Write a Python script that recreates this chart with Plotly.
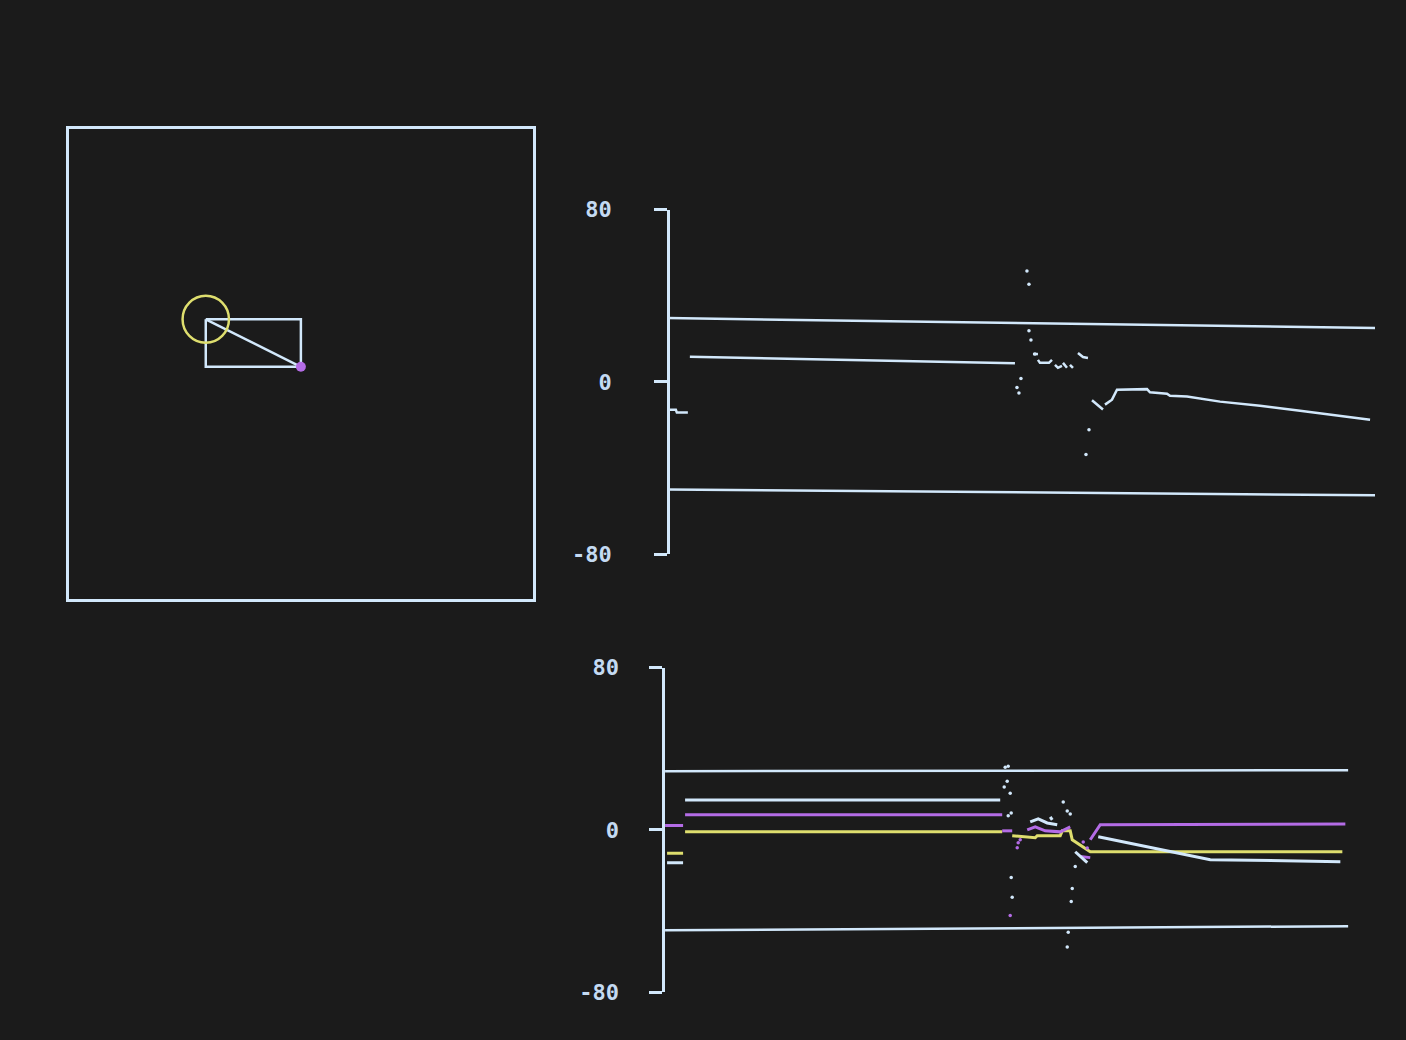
import plotly.graph_objs as go

# colours of the vector display
LINE = '#d2e8fb'
TEXT = '#c4daf2'
PURPLE = '#b46ce6'
YELLOW = '#dede6e'
BG = '#1b1b1b'

# left panel: cursor (circle) and target (dot)
cursor_pos = [29.5, 59.5]
cursor_radius = 5.0
target_pos = [50.0, 49.4]

# top chart: limits and tracked signal
top_limit_x = [0, 707]
top_upper = [29.6, 25.0]
top_lower = [-50.0, -52.7]

top_x = [2, 8, 9, 20, None, 22, 347, None,
         365, 370, None, 370, 372, 381, 384, None, 387, 390, 394, None,
         395, 399, None, 402, 405, None, 410, 415, 420, None,
         424, 435, None, 437, 444, 449, 479, 482, 499, 502, 519, 552, 592, 632, 672, 702]
top_y = [-13, -13, -14.3, -14.3, None, 11.6, 8.6, None,
         12.9, 12.9, None, 10.2, 8.8, 8.8, 10.2, None, 7.9, 6.5, 7.4, None,
         8.8, 6.5, None, 7.9, 6.5, None, 13.4, 11.5, 11.1, None,
         -8.6, -12.9, None, -10.6, -8.3, -3.7, -3.4, -4.9, -5.5, -6.5, -6.8, -9.2, -11.1, -13.4, -15.7, -17.6]

top_dot_x = [359, 361, 361, 363, 367, 353, 349, 351, 421, 418]
top_dot_y = [51.5, 45.3, 23.7, 19.4, 12.9, 1.5, -2.6, -5.2, -22.3, -33.8]

# bottom chart: limits and three signals
bot_limit_x = [2, 685]
bot_upper = [28.9, 29.4]
bot_lower = [-49.5, -47.5]

white_x = [4, 20, None, 22, 337, None, 367, 375, 384, 394, None, 387, 389, None,
           412, 424, None, 435, 547, 677]
white_y = [-16.2, -16.2, None, 14.7, 14.7, None, 3.9, 5.4, 3.4, 2.5, None, 6.4, 4.9, None,
           -10.8, -16.2, None, -3.4, -14.7, -15.7]

purple_x = [2, 20, None, 22, 339, None, 339, 349, None, 364, 372, 382, 397, 407, None,
            417, 427, None, 427, 435, 437, 682]
purple_y = [2.1, 2.1, None, 7.5, 7.5, None, -0.5, -0.5, None, 0, 1.5, -0.5, -1, 1.5, None,
            -13.2, -13.7, None, -4.9, 1.5, 2.5, 2.9]

yellow_x = [4, 20, None, 22, 339, None, 349, 372, 374, 397, 399, 407, 409, 427, 679]
yellow_y = [-11.6, -11.6, None, -1.0, -1.0, None, -2.9, -3.9, -2.9, -2.9, -0.5, -0.5, -4.9, -10.8, -10.8]

white_dot_x = [342, 345, 344, 341, 347, 348, 345, 348, 349, 400, 404, 407, 412, 409, 408, 405, 404]
white_dot_y = [30.9, 31.4, 24.0, 21.1, 18.1, 8.3, 6.9, -23.5, -33.3, 13.7, 9.3, 7.8, -18.1, -28.9, -35.3, -50.5, -57.8]
purple_dot_x = [347, 354, 355, 357, 420, 424]
purple_dot_y = [-42.2, -8.8, -6.4, -4.9, -6.0, -9.0]

ticks = [-80, 0, 80]

fig = go.Figure()

# left panel
cx, cy = cursor_pos
tx, ty = target_pos
fig.add_trace(go.Scatter(x=[cx, tx, tx, cx, cx], y=[cy, cy, ty, ty, cy], mode='lines',
                         line=dict(color=LINE, width=2.5), xaxis='x', yaxis='y'))
fig.add_trace(go.Scatter(x=[cx, tx], y=[cy, ty], mode='lines',
                         line=dict(color=LINE, width=2.5), xaxis='x', yaxis='y'))
fig.add_trace(go.Scatter(x=[tx], y=[ty], mode='markers',
                         marker=dict(color=PURPLE, size=10), xaxis='x', yaxis='y'))
fig.add_shape(type='circle', xref='x', yref='y',
              x0=cx - cursor_radius, x1=cx + cursor_radius,
              y0=cy - cursor_radius, y1=cy + cursor_radius,
              line=dict(color=YELLOW, width=2.5))

# top chart
fig.add_trace(go.Scatter(x=top_limit_x, y=top_upper, mode='lines',
                         line=dict(color=LINE, width=2.5), xaxis='x2', yaxis='y2'))
fig.add_trace(go.Scatter(x=top_limit_x, y=top_lower, mode='lines',
                         line=dict(color=LINE, width=2.5), xaxis='x2', yaxis='y2'))
fig.add_trace(go.Scatter(x=top_x, y=top_y, mode='lines', connectgaps=False,
                         line=dict(color=LINE, width=2.5), xaxis='x2', yaxis='y2'))
fig.add_trace(go.Scatter(x=top_dot_x, y=top_dot_y, mode='markers',
                         marker=dict(color=LINE, size=3.5), xaxis='x2', yaxis='y2'))

# bottom chart
fig.add_trace(go.Scatter(x=bot_limit_x, y=bot_upper, mode='lines',
                         line=dict(color=LINE, width=2.5), xaxis='x3', yaxis='y3'))
fig.add_trace(go.Scatter(x=bot_limit_x, y=bot_lower, mode='lines',
                         line=dict(color=LINE, width=2.5), xaxis='x3', yaxis='y3'))
fig.add_trace(go.Scatter(x=yellow_x, y=yellow_y, mode='lines', connectgaps=False,
                         line=dict(color=YELLOW, width=3), xaxis='x3', yaxis='y3'))
fig.add_trace(go.Scatter(x=purple_x, y=purple_y, mode='lines', connectgaps=False,
                         line=dict(color=PURPLE, width=3), xaxis='x3', yaxis='y3'))
fig.add_trace(go.Scatter(x=white_x, y=white_y, mode='lines', connectgaps=False,
                         line=dict(color=LINE, width=3), xaxis='x3', yaxis='y3'))
fig.add_trace(go.Scatter(x=white_dot_x, y=white_dot_y, mode='markers',
                         marker=dict(color=LINE, size=3.5), xaxis='x3', yaxis='y3'))
fig.add_trace(go.Scatter(x=purple_dot_x, y=purple_dot_y, mode='markers',
                         marker=dict(color=PURPLE, size=3.5), xaxis='x3', yaxis='y3'))

hidden_x = dict(visible=False, showgrid=False, zeroline=False)
value_axis = dict(range=[-80, 80], tickvals=ticks, ticktext=[str(t) for t in ticks],
                  showline=True, linecolor=LINE, linewidth=2.5,
                  ticks='outside', ticklen=13, tickwidth=2.5, tickcolor=LINE,
                  showgrid=False, zeroline=False,
                  tickfont=dict(family='DejaVu Sans Mono', size=22, color=TEXT, weight='bold'))

fig.update_layout(
    width=1406, height=1040,
    margin=dict(l=0, r=0, t=0, b=0),
    showlegend=False,
    paper_bgcolor=BG,
    plot_bgcolor=BG,
    xaxis=dict(domain=[0.049, 0.379], range=[0, 100], showline=True, mirror=True,
               linecolor=LINE, linewidth=2.5, showticklabels=False, ticks='',
               showgrid=False, zeroline=False),
    yaxis=dict(domain=[0.4218, 0.8847], range=[0, 100], showline=True, mirror=True,
               linecolor=LINE, linewidth=2.5, showticklabels=False, ticks='',
               showgrid=False, zeroline=False),
    xaxis2=dict(domain=[0.475, 0.978], range=[0, 707], anchor='y2', **hidden_x),
    yaxis2=dict(domain=[0.466, 0.8053], anchor='free', position=0.475,
                ticklabelstandoff=38, **value_axis),
    xaxis3=dict(domain=[0.4716, 0.959], range=[0, 685], anchor='y3', **hidden_x),
    yaxis3=dict(domain=[0.0344, 0.3541], anchor='free', position=0.4716,
                ticklabelstandoff=26, **value_axis),
)

fig.write_html("out.html", config={'displayModeBar': False},
               post_script="document.body.style.margin='0';"
               "document.body.style.background='" + BG + "';")
